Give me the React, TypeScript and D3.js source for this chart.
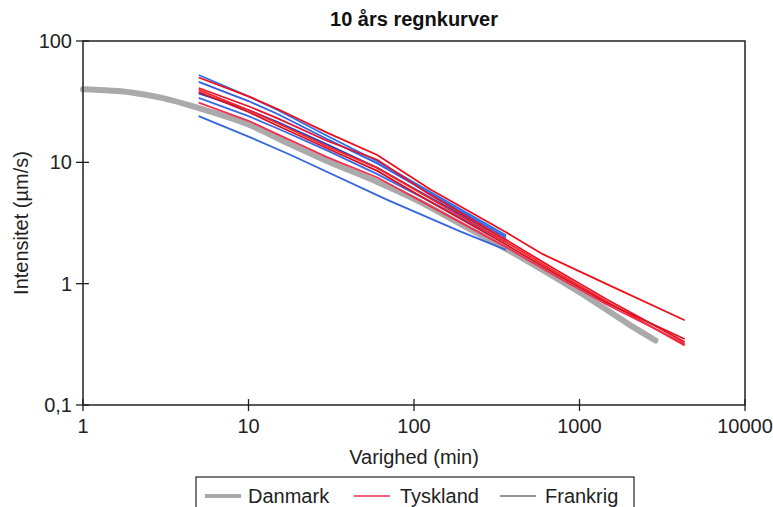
import React from "react";
import * as d3 from "d3";

type Pt = [number, number];

const title = "10 års regnkurver";
const xLabel = "Varighed (min)";
const yLabel = "Intensitet (µm/s)";
const xTicks = [1, 10, 100, 1000, 10000];
const yTicks = [0.1, 1, 10, 100];
const yTickLabels = ["0,1", "1", "10", "100"];

const danmark: Pt[] = [[1, 40], [2, 37.5], [3, 34], [5, 28], [10, 20.5], [18, 14], [30, 10.2], [60, 6.9], [100, 5.0], [200, 3.0], [500, 1.5], [1000, 0.85], [2000, 0.46], [2880, 0.34]];

const tyskland1: Pt[] = [[5, 50], [10, 35], [15, 27.5], [30, 17.5], [60, 11.5], [125, 6.0], [360, 2.65], [600, 1.75], [1440, 1.0], [4320, 0.5]];
const tyskland2: Pt[] = [[5, 41], [10, 29], [15, 23], [30, 15], [60, 10.5], [120, 5.6], [360, 2.3], [720, 1.3], [1440, 0.75], [4320, 0.33]];
const tyskland3: Pt[] = [[5, 39.5], [10, 27], [15, 21], [30, 13.5], [60, 9], [120, 5.2], [360, 2.2], [720, 1.25], [1440, 0.72], [4320, 0.31]];
const tyskland4: Pt[] = [[5, 38], [10, 26], [15, 20], [30, 13], [60, 8.5], [120, 4.9], [360, 2.1], [720, 1.2], [1440, 0.7], [4320, 0.35]];
const tyskland5: Pt[] = [[5, 31], [10, 22], [15, 17], [30, 11], [60, 7.5], [120, 4.5], [360, 2.0], [720, 1.15], [1440, 0.68], [4320, 0.32]];

const blue1: Pt[] = [[5, 52.5], [10, 35], [15, 27], [30, 16.5], [60, 10.2], [120, 5.9], [360, 2.5]];
const blue2: Pt[] = [[5, 46], [10, 32], [15, 25], [30, 15.5], [60, 9.8], [120, 5.7], [360, 2.4]];
const blue3: Pt[] = [[5, 37], [10, 27], [15, 21.5], [30, 14], [60, 9], [120, 5.3], [360, 2.3]];
const blue4: Pt[] = [[5, 34], [10, 24], [15, 19], [30, 12.5], [60, 8], [120, 4.9], [360, 2.2]];
const blue5: Pt[] = [[5, 24], [10, 16.3], [18, 11.5], [69, 4.9], [190, 2.7], [360, 1.9]];

const redSeries = [tyskland1, tyskland2, tyskland3, tyskland4, tyskland5];
const redColors = ["#f0101a", "#e8142a", "#ff2020", "#d81020", "#f03050"];
const blueSeries = [blue1, blue2, blue3, blue4, blue5];
const blueColors = ["#2a70e8", "#3060e0", "#2040c8", "#3a6ae6", "#3366e0"];

const legendItems = [
  { name: "Danmark", color: "#a8a8a8", width: 4 },
  { name: "Tyskland", color: "#ec2a4a", width: 1.6 },
  { name: "Frankrig", color: "#707070", width: 1.4 },
];

const FONT = "'Liberation Sans', Arial, sans-serif";

export default function App() {
  const W = 773, H = 507;
  const left = 83, right = 745, top = 41, bottom = 405;
  const x = d3.scaleLog().domain([1, 10000]).range([left, right]);
  const y = d3.scaleLog().domain([0.1, 100]).range([bottom, top]);
  const line = d3.line<Pt>().x((d) => x(d[0])).y((d) => y(d[1]));
  const smooth = d3.line<Pt>().x((d) => x(d[0])).y((d) => y(d[1])).curve(d3.curveMonotoneX);

  const legendX = [205, 354, 500];
  const legendTextX = [248, 400, 545];

  return (
    <svg width={W} height={H} style={{ position: "absolute", left: 0, top: 0, background: "#fff" }} fontFamily={FONT}>
      <rect x={0} y={0} width={W} height={H} fill="#fff" />
      <text x={414} y={26} textAnchor="middle" fontWeight="bold" fontSize={20} fill="#111">{title}</text>

      <g>
        <path d={smooth(danmark) || ""} fill="none" stroke="#aaaaaa" strokeWidth={6} strokeLinecap="round" />
        {blueSeries.map((s, i) => (
          <path key={"b" + i} d={line(s) || ""} fill="none" stroke={blueColors[i]} strokeWidth={1.8} />
        ))}
        {redSeries.map((s, i) => (
          <path key={"r" + i} d={line(s) || ""} fill="none" stroke={redColors[i]} strokeWidth={1.8} />
        ))}
      </g>

      <rect x={left} y={top} width={right - left} height={bottom - top} fill="none" stroke="#222" strokeWidth={1.5} />

      {xTicks.map((t) => (
        <g key={"xt" + t}>
          <line x1={x(t)} x2={x(t)} y1={bottom - 6} y2={bottom + 6} stroke="#222" strokeWidth={1.3} />
          <text x={x(t)} y={433} textAnchor="middle" fontSize={20} fill="#222">{t}</text>
        </g>
      ))}
      {yTicks.map((t, i) => (
        <g key={"yt" + t}>
          <line x1={left - 7} x2={left + 6} y1={y(t)} y2={y(t)} stroke="#222" strokeWidth={1.3} />
          <text x={72} y={y(t) + 7} textAnchor="end" fontSize={20} fill="#222">{yTickLabels[i]}</text>
        </g>
      ))}

      <text x={414} y={464} textAnchor="middle" fontSize={20} fill="#222">{xLabel}</text>
      <text transform={`translate(28, ${(top + bottom) / 2}) rotate(-90)`} textAnchor="middle" fontSize={20} fill="#222">{yLabel}</text>

      <rect x={196} y={477} width={438} height={50} fill="#fff" stroke="#333" strokeWidth={1.3} />
      {legendItems.map((it, i) => (
        <g key={it.name}>
          <line x1={legendX[i]} x2={legendX[i] + 36} y1={496} y2={496} stroke={it.color} strokeWidth={it.width} />
          <text x={legendTextX[i]} y={503} fontSize={20} fill="#222">{it.name}</text>
        </g>
      ))}
    </svg>
  );
}
